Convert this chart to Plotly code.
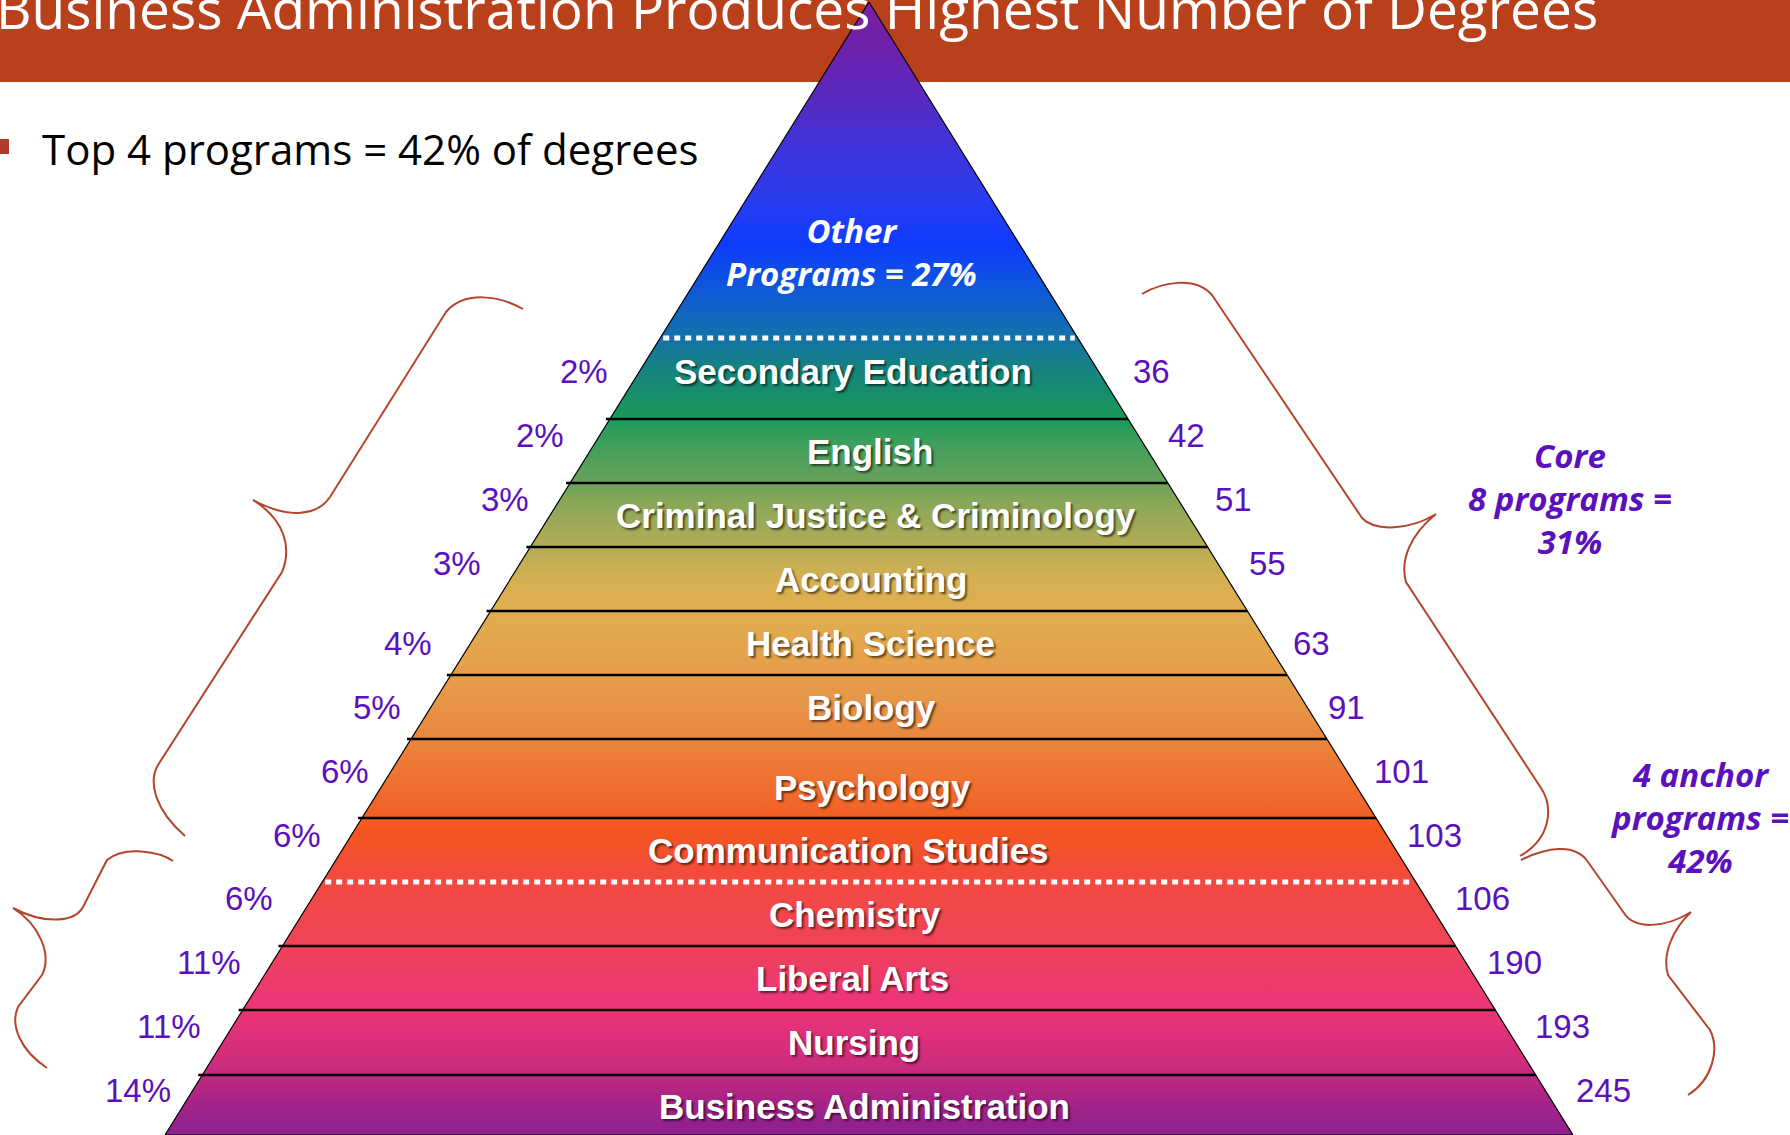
import plotly.graph_objects as go

# data, top of the pyramid to the base
programs = ["Secondary Education", "English", "Criminal Justice & Criminology",
            "Accounting", "Health Science", "Biology", "Psychology",
            "Communication Studies", "Chemistry", "Liberal Arts", "Nursing",
            "Business Administration"]
degrees = [36, 42, 51, 55, 63, 91, 101, 103, 106, 190, 193, 245]
pct = [2, 2, 3, 3, 4, 5, 6, 6, 6, 11, 11, 14]
other_pct = 27
core_n, core_pct = 8, 31
anchor_n, anchor_pct = 4, 42

# page geometry (pixel units, y grows downward)
W, H = 1790, 1135
APEX_X, APEX_Y, BASE_Y, HALF_BASE = 869, 2, 1135, 704
band_edges = [338, 419, 483, 547, 611, 675, 739, 818, 882, 946, 1010, 1075, 1135]
dotted_at = [338, 882]
name_x = [853, 870, 876, 871, 870, 871, 872, 848, 855, 852, 854, 864]
name_y = [371, 451, 515, 579, 643, 707, 787, 850, 914, 978, 1042, 1106]
side_y = [371, 435, 499, 563, 643, 707, 771, 835, 898, 962, 1026, 1090]
left_x = [584, 540, 505, 457, 408, 377, 345, 297, 249, 209, 169, 138]
right_x = [1151, 1186, 1233, 1267, 1311, 1346, 1401, 1434, 1482, 1514, 1562, 1603]

PURPLE = "#5b10bd"
BRACE = "#b5442c"


def half_w(y):
    return HALF_BASE * (y - APEX_Y) / (BASE_Y - APEX_Y)


def pos(y):
    return (y - APEX_Y) / (BASE_Y - APEX_Y)


grad = [(2, "#7b1e9c"), (60, "#6a22b0"), (130, "#4830d0"), (200, "#2a3cf0"),
        (245, "#0e3cff"), (290, "#0f58d8"), (338, "#1472a8"), (370, "#15837e"),
        (418, "#1a9a58"), (440, "#3a9e5c"), (480, "#66a25a"), (500, "#86a658"),
        (545, "#b4ac56"), (580, "#d6b052"), (611, "#e0ae50"), (650, "#e4a44c"),
        (700, "#e69646"), (740, "#ea863e"), (800, "#f0682a"), (830, "#f4561f"),
        (880, "#f24a40"), (940, "#f04456"), (990, "#ee3870"), (1010, "#ec3478"),
        (1060, "#d02c7c"), (1100, "#a82486"), (1135, "#8a2090")]
colorscale = [[pos(y), c] for y, c in grad]

fig = go.Figure()

fig.add_trace(go.Scatter(
    x=[APEX_X, APEX_X + HALF_BASE, APEX_X - HALF_BASE, APEX_X],
    y=[APEX_Y, BASE_Y, BASE_Y, APEX_Y],
    mode="lines", fill="toself",
    line=dict(color="black", width=1.2),
    fillgradient=dict(type="vertical", colorscale=colorscale, start=APEX_Y, stop=BASE_Y),
    hoverinfo="skip", showlegend=False,
))

shapes = [dict(type="rect", xref="x", yref="y", x0=0, x1=W, y0=0, y1=82,
               fillcolor="#b8411c", line_width=0, layer="below"),
          dict(type="rect", xref="x", yref="y", x0=0, x1=9, y0=139, y1=154,
               fillcolor="#b03a2e", line_width=0)]

for y in band_edges[1:-1]:
    hw = half_w(y)
    if y in dotted_at:
        continue
    shapes.append(dict(type="line", xref="x", yref="y", x0=APEX_X - hw - 4, x1=APEX_X + hw,
                       y0=y, y1=y, line=dict(color="black", width=2.5)))
for y in dotted_at:
    hw = half_w(y)
    shapes.append(dict(type="line", xref="x", yref="y", x0=APEX_X - hw + 3, x1=APEX_X + hw - 3,
                       y0=y, y1=y, line=dict(color="white", width=5, dash="6px,5px")))

braces = [
    "M 523 309 C 500 296, 465 290, 446 312 L 330 497 C 318 515, 290 520, 253 500 "
    "C 285 520, 292 548, 282 572 L 158 765 C 148 782, 155 810, 185 836",
    "M 173 861 C 160 852, 125 845, 107 860 L 83 907 C 75 922, 45 925, 13 908 "
    "C 40 925, 52 955, 42 975 L 18 1007 C 10 1025, 20 1050, 47 1068",
    "M 1142 294 C 1160 283, 1195 275, 1212 295 L 1362 518 C 1375 532, 1410 530, 1436 514 "
    "C 1410 535, 1400 560, 1406 582 L 1541 788 C 1553 806, 1552 838, 1520 856",
    "M 1521 860 C 1545 848, 1575 842, 1588 862 L 1624 913 C 1635 930, 1665 928, 1691 912 "
    "C 1672 930, 1662 955, 1668 975 L 1710 1030 C 1720 1050, 1712 1080, 1688 1095",
]
for p in braces:
    shapes.append(dict(type="path", xref="x", yref="y", path=p,
                       line=dict(color=BRACE, width=2)))

ann = []
# the slide title runs off the top edge in the original, kept that way
ann.append(dict(x=0, xshift=-6, y=47, xanchor="left", yanchor="bottom",
                text="Business Administration Produces Highest Number of Degrees",
                font=dict(family="Open Sans", size=55, color="white")))
ann.append(dict(x=40, y=148, xanchor="left", yanchor="middle",
                text=f"Top {anchor_n} programs = {anchor_pct}% of degrees",
                font=dict(family="Open Sans", size=42, color="black")))
ann.append(dict(x=851, y=252, xanchor="center", yanchor="middle",
                text=f"Other<br>Programs = {other_pct}%",
                font=dict(family="Open Sans", size=33, color="white", weight=700, style="italic")))

for name, x, y in zip(programs, name_x, name_y):
    ann.append(dict(x=x, y=y, xanchor="center", yanchor="middle", text=name,
                    font=dict(family="Liberation Sans", size=35, color="white", weight=700,
                              shadow="2px 2px 2px rgba(0,0,0,0.55)")))

for p, n, xl, xr, y in zip(pct, degrees, left_x, right_x, side_y):
    ann.append(dict(x=xl, y=y, xanchor="center", yanchor="middle", text=f"{p}%",
                    font=dict(family="Liberation Sans", size=33, color=PURPLE)))
    ann.append(dict(x=xr, y=y, xanchor="center", yanchor="middle", text=str(n),
                    font=dict(family="Liberation Sans", size=33, color=PURPLE)))

ann.append(dict(x=1570, y=498, xanchor="center", yanchor="middle",
                text=f"Core<br>{core_n} programs =<br>{core_pct}%",
                font=dict(family="Open Sans", size=33, color=PURPLE, weight=700, style="italic")))
ann.append(dict(x=1699, y=817, xanchor="center", yanchor="middle",
                text=f"{anchor_n} anchor<br>programs =<br>{anchor_pct}%",
                font=dict(family="Open Sans", size=33, color=PURPLE, weight=700, style="italic")))

for a in ann:
    a.update(xref="x", yref="y", showarrow=False)

fig.update_layout(
    width=W, height=H,
    margin=dict(l=0, r=0, t=0, b=0),
    paper_bgcolor="white", plot_bgcolor="white",
    xaxis=dict(range=[0, W], visible=False, fixedrange=True),
    yaxis=dict(range=[H, 0], visible=False, fixedrange=True),
    shapes=shapes, annotations=ann,
    showlegend=False,
)

fig.write_html("out.html", config={"displayModeBar": False},
               post_script="document.body.style.margin='0';document.body.style.overflow='hidden';")
